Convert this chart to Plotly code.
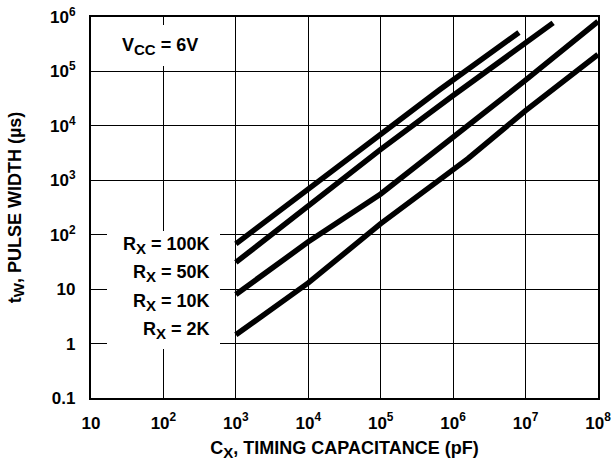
import plotly.graph_objects as go

# Timing capacitance (pF) / pulse width (us) for each timing resistor
SUBX = "<sub><span style='font-size:15px'>X</span></sub>"
rx_labels = ["R" + SUBX + " = 100K", "R" + SUBX + " = 50K", "R" + SUBX + " = 10K", "R" + SUBX + " = 2K"]
cx_100k = [1e3, 1e4, 1e5, 6.5e5, 8.1e6]
tw_100k = [68, 700, 7100, 46000, 520000]
cx_50k = [1e3, 1e4, 1e5, 1e6, 1e7, 2.4e7]
tw_50k = [31, 340, 3700, 36000, 330000, 780000]
cx_10k = [1e3, 1e4, 1e5, 1e6, 1e7, 1e8]
tw_10k = [8, 74, 560, 6200, 69000, 830000]
cx_2k = [1e3, 1e4, 1e5, 1e6, 1.6e6, 1e7, 1e8]
tw_2k = [1.45, 13, 160, 1500, 2500, 19000, 205000]

x_tickvals = [10, 1e2, 1e3, 1e4, 1e5, 1e6, 1e7, 1e8]
x_ticktext = ["10", "10<sup>2</sup>", "10<sup>3</sup>", "10<sup>4</sup>", "10<sup>5</sup>",
              "10<sup>6</sup>", "10<sup>7</sup>", "10<sup>8</sup>"]
y_tickvals = [0.1, 1, 10, 1e2, 1e3, 1e4, 1e5, 1e6]
y_ticktext = ["0.1", "1", "10", "10<sup>2</sup>", "10<sup>3</sup>", "10<sup>4</sup>",
              "10<sup>5</sup>", "10<sup>6</sup>"]

FONT = "Liberation Sans"

fig = go.Figure()
for xs, ys, name in [(cx_100k, tw_100k, "100K"), (cx_50k, tw_50k, "50K"),
                     (cx_10k, tw_10k, "10K"), (cx_2k, tw_2k, "2K")]:
    fig.add_trace(go.Scatter(x=xs, y=ys, mode="lines", name=name,
                             line=dict(color="black", width=5.5), showlegend=False))

fig.update_layout(
    width=615, height=464,
    margin=dict(l=91, r=17, t=17, b=66),
    paper_bgcolor="white", plot_bgcolor="white",
    font=dict(family=FONT, color="black", size=17, weight="bold"),
    xaxis=dict(type="log", range=[1, 8], tickvals=x_tickvals, ticktext=x_ticktext,
               automargin=False,
               showgrid=True, gridcolor="black", gridwidth=1.3,
               showline=True, linecolor="black", linewidth=2.2, mirror=True,
               ticks="", ticklabelstandoff=8,
               tickfont=dict(family=FONT, size=17, weight="bold"),
               title=dict(text="C<sub><span style='font-size:15px'>X</span></sub>, TIMING CAPACITANCE (pF)",
                          font=dict(family=FONT, size=18, weight="bold"), standoff=10)),
    yaxis=dict(type="log", range=[-1, 6], tickvals=y_tickvals, ticktext=y_ticktext,
               automargin=False,
               showgrid=True, gridcolor="black", gridwidth=1.3,
               showline=True, linecolor="black", linewidth=2.2, mirror=True,
               ticks="", ticklabelstandoff=10,
               tickfont=dict(family=FONT, size=17, weight="bold"),
               title=dict(text="t<sub><span style='font-size:15px'>W</span></sub>, PULSE WIDTH (\u00b5s)",
                          font=dict(family=FONT, size=18, weight="bold"), standoff=24)),
)

# white boxes behind the text labels (gridlines are interrupted there)
def px_to_paper_x(p):
    return (p - 91) / 507.0

def px_to_paper_y(p):
    return (398 - p) / 381.0

fig.add_shape(type="rect", xref="paper", yref="paper", layer="above",
              x0=px_to_paper_x(107), x1=px_to_paper_x(220),
              y0=px_to_paper_y(349), y1=px_to_paper_y(231),
              fillcolor="white", line=dict(width=0))
fig.add_shape(type="rect", xref="paper", yref="paper", layer="above",
              x0=px_to_paper_x(112), x1=px_to_paper_x(214),
              y0=px_to_paper_y(66), y1=px_to_paper_y(25),
              fillcolor="white", line=dict(width=0))

label_y = [245, 273, 302, 330]
for txt, py in zip(rx_labels, label_y):
    fig.add_annotation(xref="paper", yref="paper", x=px_to_paper_x(212), y=px_to_paper_y(py),
                       xanchor="right", yanchor="middle", text=txt, showarrow=False,
                       font=dict(family=FONT, size=18, weight="bold", color="black"))

fig.add_annotation(xref="paper", yref="paper", x=px_to_paper_x(120), y=px_to_paper_y(46),
                   xanchor="left", yanchor="middle",
                   text="V<sub><span style='font-size:15px'>CC</span></sub> = 6V", showarrow=False,
                   font=dict(family=FONT, size=18, weight="bold", color="black"))

fig.write_html("out.html", config={"displayModeBar": False},
               post_script="document.body.style.margin='0';document.body.style.overflow='hidden';")
